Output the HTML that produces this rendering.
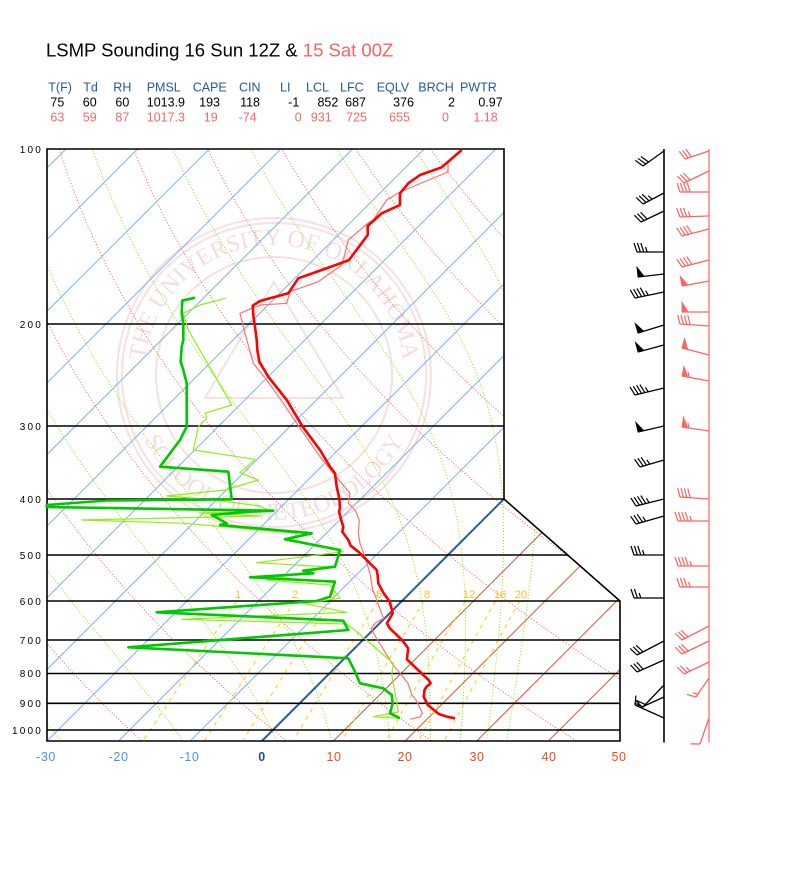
<!DOCTYPE html>
<html><head><meta charset="utf-8"><title>LSMP Sounding</title>
<style>
html,body{margin:0;padding:0;background:#fff}
body{width:800px;height:872px;overflow:hidden}
svg{display:block;font-family:"Liberation Sans",Arial,sans-serif}
</style></head><body>
<svg id="sk" width="800" height="872" viewBox="0 0 800 872" xmlns="http://www.w3.org/2000/svg">
<defs>
<clipPath id="cp"><polygon points="47,149 504,149 504,499 620,601 620,741 47,741"/></clipPath>
<clipPath id="cpm"><polygon points="47,601 620,601 620,741 47,741"/></clipPath>
<path id="arcT" d="M151.8,419.5 A130,130 0 1,1 396.2,419.5"/>
<path id="arcB" d="M137.7,325.4 A145,145 0 1,0 410.3,325.4"/>
</defs>
<rect width="800" height="872" fill="#fff"/>

<!-- watermark seal -->
<g fill="none" stroke="#f6e0e0" stroke-width="2">
 <circle cx="274" cy="375" r="157"/>
 <circle cx="274" cy="375" r="152"/>
 <circle cx="274" cy="375" r="118"/>
 <polygon points="274,282 205,398 343,398"/>
</g>
<g font-family="'Liberation Serif',serif" font-size="24" fill="#f5dddd">
 <text><textPath href="#arcT" startOffset="50%" text-anchor="middle">THE UNIVERSITY OF OKLAHOMA</textPath></text>
 <text><textPath href="#arcB" startOffset="50%" text-anchor="middle">SCHOOL OF METEOROLOGY</textPath></text>
</g>

<g id="bg" clip-path="url(#cp)"></g>
<g id="mx" clip-path="url(#cpm)"></g>

<!-- 0 C isotherm -->
<line x1="261.9" y1="741" x2="503.9" y2="499" stroke="#2c5d94" stroke-width="2"/>

<!-- pressure lines + border -->
<g stroke="#000" stroke-width="1.6" fill="none">
 <line x1="47" y1="324" x2="504" y2="324"/>
 <line x1="47" y1="426" x2="504" y2="426"/>
 <line x1="47" y1="499" x2="504" y2="499"/>
 <line x1="47" y1="555" x2="567.7" y2="555"/>
 <line x1="47" y1="601" x2="620" y2="601"/>
 <line x1="47" y1="640" x2="620" y2="640"/>
 <line x1="47" y1="673.5" x2="620" y2="673.5"/>
 <line x1="47" y1="703.3" x2="620" y2="703.3"/>
 <line x1="47" y1="730" x2="620" y2="730"/>
 <polygon points="47,149 504,149 504,499 620,601 620,741 47,741"/>
</g>

<!-- mixing ratio labels -->
<g font-size="11" fill="#f5c41c" text-anchor="middle">
 <text x="238" y="598">1</text>
 <text x="295" y="598">2</text>
 <text x="332" y="598">3</text>
 <text x="379" y="598">5</text>
 <text x="427" y="598">8</text>
 <text x="469" y="598">12</text>
 <text x="500" y="598">16</text>
 <text x="521" y="598">20</text>
</g>

<!-- traces (15 Sat 00Z thin) -->
<polyline fill="none" stroke="#ff7070" stroke-width="1.2" stroke-linejoin="round" points="461.7,150 448,163 448,172 400,192 386.7,200 373.3,220 367.7,223.3 348.3,240 345,253.3 341.7,265 318.3,281.7 290,291.7 286.7,303.3 260,305 240,313.3 245,333.3 253.3,363.3 266.7,380 283.3,403.3 296.7,423.3 320,456.7 333.3,473.3 350,493.3 348.3,503.3 355,510 359.3,520 358.3,533.3 360,543.3 365,556.7 370,573.3 372.7,590 375.5,596.7 381.6,613.3 383.7,618.3 375.5,623 371.4,628.3 375.5,636.7 383.7,650 391.8,663.3 400,673.3 408,683.3 412,695 416,700 422.4,713.3 420.4,716.7 410.2,719.3"/>
<polyline fill="none" stroke="#8ef010" stroke-width="1.2" stroke-linejoin="round" points="225.7,298.3 200,305 183.3,313.3 188.3,330 231.7,405 205,413.3 206.7,418.3 198.3,426.7 193.3,450 255,459.3 240,472.7 258.3,480 225,490 166.7,496 215,500 260,506 270,511 200,513 260,516 81.7,520 185,523.3 296.7,533.3 293.3,540 343.3,551.7 256.7,562.7 330,567 266.7,580 330,585 340,598.3 303.3,603.3 346.7,612.3 181.7,619.3 346.7,624 356.7,631.7 393.3,663.3 391.7,675 396.7,701.7 398.3,712 373.3,716.7 400,718.3"/>
<!-- 16 Sun 12Z thick -->
<polyline fill="none" stroke="#00c800" stroke-width="2.6" stroke-linejoin="round" points="195,297.7 182.3,300.7 181.7,313.3 183.3,323.3 183.3,340 181.7,346.7 180.7,361.7 183.3,370 186.7,383.3 186.7,426.7 180,440 160,466.7 228.3,471.7 231.7,499.3 106.7,500.5 46.7,505 46.7,507 273.3,510.7 250,511.7 211.7,515 226.7,523.3 220,525 311.7,533.3 285,539.3 340,550 335,566.7 303.3,570.7 313.3,573.3 250,577.3 335,581.7 330,596.7 316.7,601 156.7,612.3 343.3,620.7 348.3,630 128.3,647.3 348.3,658.3 355,671.7 360,683.3 383.3,688.3 391.7,695 392.7,703.3 390,713.3 400,718.3"/>
<polyline fill="none" stroke="#ff0000" stroke-width="2.6" stroke-linejoin="round" points="461.7,150 441.7,167.3 420,175 408.3,183.3 400,193.3 400,205 381.7,213.3 367.7,226 367.7,235 349,260 345,261.7 321.7,270 298.3,278.3 288.3,293.3 260,301 252.7,305.7 253.3,315 255,326.7 256.7,340 257.3,350 259.3,361.7 268.3,376.7 286.7,400 302.7,426.7 320,450 330,466.7 335,473.3 336.7,486.7 339.3,498.3 340,508.3 339,511.7 341.7,521.7 343.3,526.7 342.3,531.7 348.3,540 350.7,545.7 358.3,551.7 368.3,561.7 376.7,570 377.7,575.7 378.3,583.3 383.7,593.3 389.8,601.7 392.7,613.3 389.8,618.3 386.9,623.3 389.8,628.3 402,640 408.2,648.3 406.9,659.3 416.3,668.3 428.6,680 430.6,683.3 426.5,686.7 424.5,690 423.7,696.7 427.8,705 438.8,714 446.9,716.7 455.1,718.3"/>

<!-- title -->
<text x="46" y="56.5" font-size="18.5" fill="#000">LSMP Sounding 16 Sun 12Z &amp; <tspan fill="#f86464">15 Sat 00Z</tspan></text>

<!-- stats header -->
<g font-size="12.5" fill="#1f5b9b">
 <text x="48.3" y="91.5">T(F)</text>
 <text x="83.3" y="91.5">Td</text>
 <text x="113.3" y="91.5">RH</text>
 <text x="146.7" y="91.5">PMSL</text>
 <text x="192.7" y="91.5">CAPE</text>
 <text x="239" y="91.5">CIN</text>
 <text x="280" y="91.5">LI</text>
 <text x="306" y="91.5">LCL</text>
 <text x="340" y="91.5">LFC</text>
 <text x="376.7" y="91.5">EQLV</text>
 <text x="418.3" y="91.5">BRCH</text>
 <text x="460" y="91.5">PWTR</text>
</g>
<g font-size="12.5" fill="#000" text-anchor="end">
 <text x="64.3" y="106.5">75</text>
 <text x="96.7" y="106.5">60</text>
 <text x="129.3" y="106.5">60</text>
 <text x="185" y="106.5">1013.9</text>
 <text x="220" y="106.5">193</text>
 <text x="260" y="106.5">118</text>
 <text x="299.3" y="106.5">-1</text>
 <text x="338.3" y="106.5">852</text>
 <text x="366" y="106.5">687</text>
 <text x="414" y="106.5">376</text>
 <text x="455" y="106.5">2</text>
 <text x="502.7" y="106.5">0.97</text>
</g>
<g font-size="12.5" fill="#f06a6a" text-anchor="end">
 <text x="64.3" y="121.5">63</text>
 <text x="96.7" y="121.5">59</text>
 <text x="129.3" y="121.5">87</text>
 <text x="185" y="121.5">1017.3</text>
 <text x="217.7" y="121.5">19</text>
 <text x="256.7" y="121.5">-74</text>
 <text x="301.7" y="121.5">0</text>
 <text x="331.7" y="121.5">931</text>
 <text x="367" y="121.5">725</text>
 <text x="410" y="121.5">655</text>
 <text x="449" y="121.5">0</text>
 <text x="497.7" y="121.5">1.18</text>
</g>

<!-- pressure labels -->
<g font-size="10" fill="#000" text-anchor="end" letter-spacing="2.2">
 <text x="43" y="153">100</text>
 <text x="43" y="328">200</text>
 <text x="43" y="430">300</text>
 <text x="43" y="503">400</text>
 <text x="43" y="559">500</text>
 <text x="43" y="605">600</text>
 <text x="43" y="644">700</text>
 <text x="43" y="677">800</text>
 <text x="43" y="707">900</text>
 <text x="43" y="734">1000</text>
</g>

<!-- temperature labels -->
<g font-size="12.5" text-anchor="middle" letter-spacing="0.6">
 <text x="46" y="761" fill="#4495ea">-30</text>
 <text x="118.6" y="761" fill="#4495ea">-20</text>
 <text x="189.5" y="761" fill="#4495ea">-10</text>
 <text x="262" y="761" fill="#1e4e8c" font-weight="bold">0</text>
 <text x="334" y="761" fill="#ee4a1e">10</text>
 <text x="405" y="761" fill="#ee4a1e">20</text>
 <text x="477" y="761" fill="#ee4a1e">30</text>
 <text x="549" y="761" fill="#ee4a1e">40</text>
 <text x="619" y="761" fill="#ee4a1e">50</text>
</g>

<!-- wind barb axes -->
<line x1="664" y1="149" x2="664" y2="742.5" stroke="#000" stroke-width="1.6"/>
<line x1="709" y1="149" x2="709" y2="742.5" stroke="#ff6464" stroke-width="1.2"/>
<g id="barbs"></g>
</svg>

<script>
(function(){
var NS="http://www.w3.org/2000/svg";
function Y(p){return 149+252.3*Math.log(p/100);}
function X(T,p){return 47+(T+30)*7.1625+(741-Y(p));}
function el(parent,tag,attrs){var e=document.createElementNS(NS,tag);for(var k in attrs)e.setAttribute(k,attrs[k]);parent.appendChild(e);return e;}
function pts(a){return a.map(function(q){return q[0].toFixed(1)+','+q[1].toFixed(1);}).join(' ');}
var bg=document.getElementById('bg'), mx=document.getElementById('mx');

// isotherms
for(var T=-160;T<=50;T+=10){
  if(T===0)continue;
  var x0=47+(T+30)*7.1625;
  el(bg,'line',{x1:x0,y1:741,x2:x0+700,y2:41,stroke:T<0?'#7fb4ee':'#c8603c','stroke-width':1});
}
// dry adiabats
for(var th=-40;th<=220;th+=20){
  var a=[];
  for(var p=1050;p>=95;p-=5){var t=(th+273.15)*Math.pow(p/1000,0.2857)-273.15;a.push([X(t,p),Y(p)]);}
  el(bg,'polyline',{points:pts(a),fill:'none',stroke:'#ff5c5c','stroke-width':1,'stroke-dasharray':'1 2'});
}
// moist adiabats
function es(T){return 6.112*Math.exp(17.67*T/(T+243.5));}
function lapse(T,p){var Tk=T+273.15,Rd=287.04,Cp=1005.7,L=2.501e6,eps=0.622;var e=es(T);var r=eps*e/(p-e);return ((Rd*Tk+L*r)/p)/(Cp+L*L*r*eps/(Rd*Tk*Tk));}
[-27.9,-11.0,2.07,9.8,17.9,23.5,27.7,31.4,34.2].forEach(function(T0){
  var t=T0,p=1045,a=[[X(t,p),Y(p)]];
  while(p>100){var dp=-2.5;var k1=lapse(t,p);var k2=lapse(t+k1*dp,p+dp);t+=0.5*(k1+k2)*dp;p+=dp;a.push([X(t,p),Y(p)]);}
  el(bg,'polyline',{points:pts(a),fill:'none',stroke:'#99dd00','stroke-width':1,'stroke-dasharray':'1 2'});
});
// mixing ratio lines
[1,2,3,5,8,12,16,20].forEach(function(w){
  var a=[];
  for(var p=600;p<=1050;p+=25){var e=w*p/(622+w);var l=Math.log(e/6.112);var Td=243.5*l/(17.67-l);a.push([X(Td,p),Y(p)]);}
  el(mx,'polyline',{points:pts(a),fill:'none',stroke:'#ffd42a','stroke-width':1.2,'stroke-dasharray':'4 5'});
});

// wind barbs
var bgG=document.getElementById('barbs');
function barb(bx,by,tx,ty,spec,col){
  var L=Math.hypot(tx-bx,ty-by),dx=(tx-bx)/L,dy=(ty-by)/L,nx=-dy,ny=dx;
  el(bgG,'line',{x1:bx,y1:by,x2:tx,y2:ty,stroke:col,'stroke-width':1.3});
  var d=0;
  for(var i=0;i<spec.length;i++){
    var c=spec[i],px=tx-dx*d,py=ty-dy*d;
    if(c==='F'){el(bgG,'line',{x1:px,y1:py,x2:px+nx*9+dx*3,y2:py+ny*9+dy*3,stroke:col,'stroke-width':1.2});d+=3.4;}
    else if(c==='H'){el(bgG,'line',{x1:px,y1:py,x2:px+nx*5+dx*1.7,y2:py+ny*5+dy*1.7,stroke:col,'stroke-width':1.2});d+=3.4;}
    else if(c==='P'){el(bgG,'polygon',{points:pts([[px,py],[px+nx*10,py+ny*10],[px-dx*6,py-dy*6]]),fill:col,stroke:col,'stroke-width':0.8});d+=7;}
  }
}
var K='#000';
[[151,643,166,'FFF'],[193,643,204,'FFFH'],[211,641,222,'FFF'],[252,637,252,'FFFH'],[274,638,277,'P'],
 [292,635,298,'FFFFH'],[325,638,333,'P'],[345,638,352,'P'],[388,635,395,'FFFFH'],[426,638,432,'P'],
 [460,640,467,'FFFH'],[499,636,506,'FFFFH'],[516,636,524,'FFFH'],[555,634,555,'FFFH'],[598,634,598,'FFH'],
 [641,637,655,'FFF'],[660,637,672,'FFF'],[685,643,707,'FF'],[697,642,707,'F'],[718,635,705,'FH']
].forEach(function(b){barb(664,b[0],b[1],b[2],b[3],K);});
var R='#ff6464';
[[151,685,159,'FFF'],[171,684,183,'FFF'],[192,680,192,'FFFF'],[216,680,217,'FFFH'],[229,682,236,'FFFF'],
 [260,682,267,'FFFF'],[281,682,286,'P'],[312,682,312,'P'],[326,680,324,'FFFF'],[355,682,348,'P'],
 [381,682,376,'PH'],[431,682,427,'PH'],[499,680,497,'FFFF'],[521,678,521,'FFFFH'],[566,678,566,'FFFFH'],
 [587,680,587,'FFFH'],[626,682,640,'FFF'],[641,682,654,'FFF'],[662,684,674,'FFH'],[678,696,697,'FH'],
 [718,700,744,'F']
].forEach(function(b){barb(709,b[0],b[1],b[2],b[3],R);});
})();
</script>
</body></html>
